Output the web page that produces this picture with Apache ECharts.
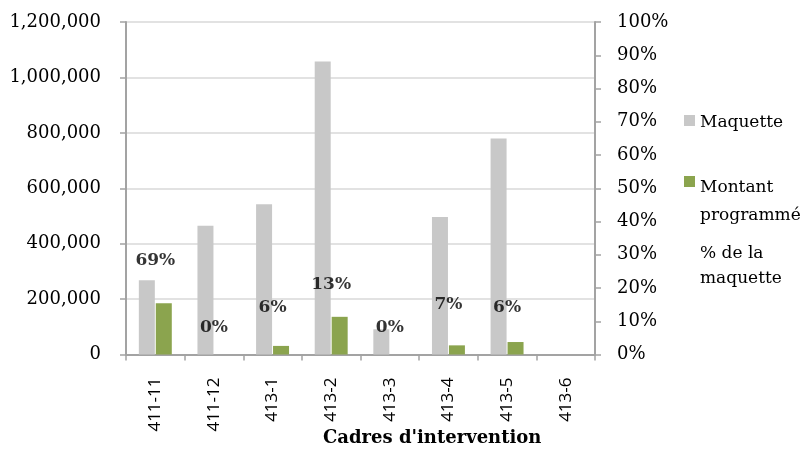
<!DOCTYPE html>
<html>
<head>
<meta charset="utf-8">
<script src="https://cdn.jsdelivr.net/npm/echarts@6/dist/echarts.min.js"></script>
<style>html,body{margin:0;padding:0;background:#fff}#c{width:807px;height:450px}</style>
</head>
<body>
<div id="c"></div>
<script>
const categories = ['411-11', '411-12', '413-1', '413-2', '413-3', '413-4', '413-5', '413-6'];
const maquette = [268000, 465000, 542000, 1057000, 91000, 496000, 780000, 0];
const montantProgramme = [185000, 0, 31000, 136000, 0, 33000, 45000, 0];
const pctMaquette = [0.69, 0, 0.06, 0.13, 0, 0.07, 0.06, null];
const leftTicks = { min: 0, max: 1200000, interval: 200000 };
const rightTicks = { min: 0, max: 1, interval: 0.1 };

const serif = 'DejaVu Serif';
const axisGrey = '#a3a3a3';

const chart = echarts.init(document.getElementById('c'), null, { renderer: 'canvas' });

const pctData = pctMaquette.map((v, i) => {
  if (v === null) return null;
  const item = { value: v };
  if (i === 0) item.label = { offset: [0, 162] };
  return item;
});

chart.setOption({
  animation: false,
  backgroundColor: '#ffffff',
  grid: { left: 126, right: 212, top: 22, bottom: 95.5 },
  xAxis: {
    type: 'category',
    data: categories,
    axisLine: { lineStyle: { color: axisGrey, width: 2 } },
    axisTick: { show: true, length: 6, lineStyle: { color: axisGrey, width: 1.5 } },
    axisLabel: { rotate: 90, margin: 23, fontFamily: 'Open Sans', fontSize: 17, color: '#000' }
  },
  yAxis: [
    {
      type: 'value',
      min: leftTicks.min, max: leftTicks.max, interval: leftTicks.interval,
      axisLine: { show: true, lineStyle: { color: axisGrey, width: 2 } },
      axisTick: { show: true, length: 6, lineStyle: { color: axisGrey, width: 1.5 } },
      splitLine: { show: true, lineStyle: { color: '#e2e2e2', width: 2 } },
      axisLabel: {
        margin: 25, fontFamily: serif, fontSize: 18, color: '#000',
        formatter: v => v.toLocaleString('en-US')
      }
    },
    {
      type: 'value',
      position: 'right',
      min: rightTicks.min, max: rightTicks.max, interval: rightTicks.interval,
      axisLine: { show: true, lineStyle: { color: axisGrey, width: 2 } },
      axisTick: { show: true, length: 6, lineStyle: { color: axisGrey, width: 1.5 } },
      splitLine: { show: false },
      axisLabel: {
        margin: 22, fontFamily: serif, fontSize: 18, color: '#000',
        formatter: v => Math.round(v * 100) + '%'
      }
    }
  ],
  series: [
    {
      name: 'Maquette', type: 'bar', yAxisIndex: 0, data: maquette,
      barWidth: 16, barGap: '6%',
      itemStyle: { color: '#c8c8c8' }
    },
    {
      name: 'Montant programmé', type: 'bar', yAxisIndex: 0, data: montantProgramme,
      barWidth: 16, barGap: '6%',
      itemStyle: { color: '#8ba44e' }
    },
    {
      name: '% de la maquette', type: 'scatter', yAxisIndex: 1, data: pctData,
      symbolSize: 0, z: 5,
      label: {
        show: true, position: 'top', distance: 18,
        fontFamily: serif, fontSize: 17, fontWeight: 'bold', color: '#000',
        formatter: p => Math.round(p.value * 100) + '%'
      }
    }
  ],
  graphic: [
    { type: 'rect', left: 684, top: 115, shape: { width: 11, height: 11 }, style: { fill: '#c8c8c8' } },
    { type: 'text', left: 700, top: 114, style: { text: 'Maquette', font: '17px "DejaVu Serif"', fill: '#000' } },
    { type: 'rect', left: 684, top: 176, shape: { width: 11, height: 11 }, style: { fill: '#8ba44e' } },
    { type: 'text', left: 700, top: 174, style: { text: 'Montant\nprogrammé', font: '17px "DejaVu Serif"', fill: '#000', lineHeight: 28 } },
    { type: 'text', left: 700, top: 241, style: { text: '% de la\nmaquette', font: '17px "DejaVu Serif"', fill: '#000', lineHeight: 25 } },
    { type: 'text', left: 323, top: 429, style: { text: "Cadres d'intervention", font: 'bold 18px "DejaVu Serif"', fill: '#000' } }
  ]
});
</script>
</body>
</html>
